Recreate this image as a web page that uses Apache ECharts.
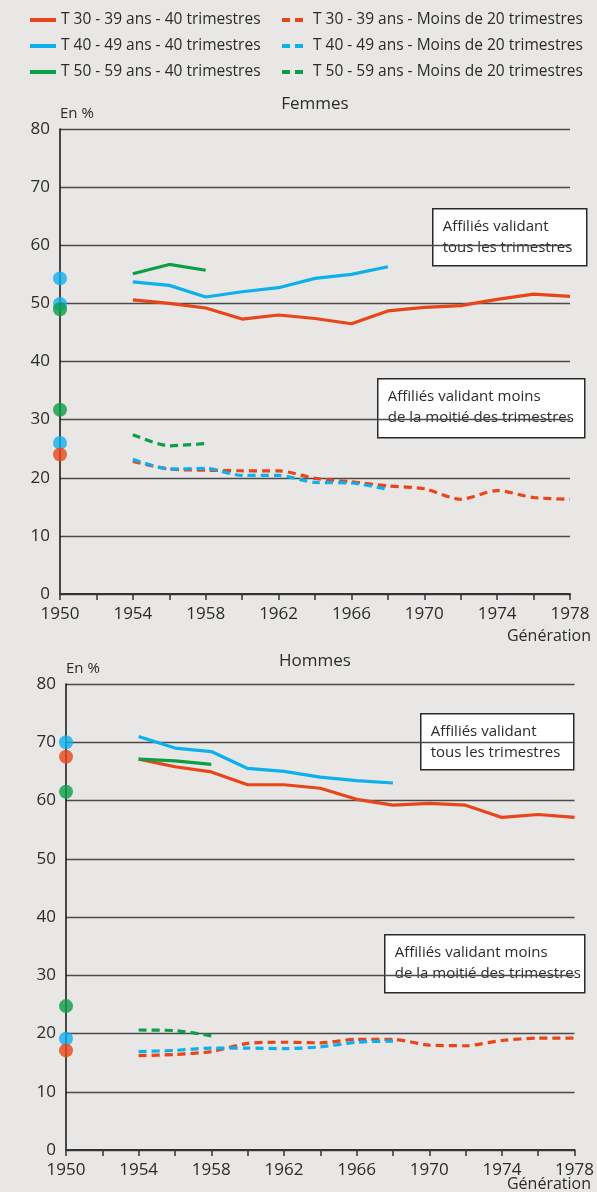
<!DOCTYPE html>
<html>
<head>
<meta charset="utf-8">
<script src="https://cdn.jsdelivr.net/npm/echarts@6/dist/echarts.min.js"></script>
<style>
    html, body { margin: 0; padding: 0; background: #e8e7e5; }
    #chart { width: 597px; height: 1192px; }
</style>
</head>
<body>
<div id="chart"></div>
<script>
    // générations (abscisse)
    const years = [1954, 1956, 1958, 1960, 1962, 1964, 1966, 1968, 1970, 1972, 1974, 1976, 1978];
    const xTicks = [1950, 1954, 1958, 1962, 1966, 1970, 1974, 1978];
    const yTicks = [0, 10, 20, 30, 40, 50, 60, 70, 80];

    const names = [
        'T 30 - 39 ans - 40 trimestres',
        'T 40 - 49 ans - 40 trimestres',
        'T 50 - 59 ans - 40 trimestres',
        'T 30 - 39 ans - Moins de 20 trimestres',
        'T 40 - 49 ans - Moins de 20 trimestres',
        'T 50 - 59 ans - Moins de 20 trimestres'
    ];

    // Femmes
    const femmesT30_40 = [50.6, 50.0, 49.2, 47.3, 48.0, 47.4, 46.5, 48.7, 49.3, 49.6, 50.7, 51.6, 51.2];
    const femmesT40_40 = [53.7, 53.1, 51.1, 52.0, 52.7, 54.3, 55.0, 56.3];
    const femmesT50_40 = [55.1, 56.7, 55.7];
    const femmesT30_20 = [22.8, 21.5, 21.3, 21.2, 21.2, 19.9, 19.3, 18.6, 18.1, 16.3, 17.8, 16.6, 16.3];
    const femmesT40_20 = [23.2, 21.5, 21.6, 20.4, 20.4, 19.2, 19.1, 18.0];
    const femmesT50_20 = [27.4, 25.5, 25.9];
    // points génération 1950 : [valeur, couleur]
    const femmes1950 = [[54.3, 'blue'], [49.9, 'blue'], [26.0, 'blue'], [49.0, 'green'], [31.7, 'green'], [24.0, 'red']];

    // Hommes
    const hommesT30_40 = [67.1, 65.8, 64.9, 62.7, 62.7, 62.1, 60.2, 59.2, 59.5, 59.2, 57.1, 57.6, 57.1];
    const hommesT40_40 = [71.0, 69.0, 68.4, 65.5, 65.0, 64.0, 63.4, 63.0];
    const hommesT50_40 = [67.1, 66.8, 66.2];
    const hommesT30_20 = [16.2, 16.4, 16.9, 18.3, 18.5, 18.4, 19.0, 19.0, 18.0, 17.9, 18.8, 19.2, 19.2];
    const hommesT40_20 = [16.9, 17.1, 17.5, 17.5, 17.4, 17.7, 18.5, 18.7];
    const hommesT50_20 = [20.6, 20.5, 19.6];
    const hommes1950 = [[70.0, 'blue'], [19.1, 'blue'], [61.5, 'green'], [24.7, 'green'], [67.5, 'red'], [17.1, 'red']];

    const colors = { red: '#e8461a', blue: '#0cb0ec', green: '#0b9e47' };
    const seriesColors = [colors.red, colors.blue, colors.green, colors.red, colors.blue, colors.green];
    const font = '"Open Sans", sans-serif';
    const textColor = '#2b2b2b';

    const chart = echarts.init(document.getElementById('chart'));

    function lineSeries(idx, arr, i) {
        const dashed = i >= 3;
        return {
            name: names[i],
            type: 'line',
            xAxisIndex: idx,
            yAxisIndex: idx,
            data: arr.map((v, k) => [years[k], v]),
            symbol: 'none',
            smooth: dashed ? 0.25 : false,
            silent: true,
            lineStyle: {
                color: seriesColors[i],
                width: 3.2,
                type: dashed ? [8, 5] : 'solid'
            },
            itemStyle: { color: seriesColors[i] }
        };
    }

    function dotSeries(idx, dots) {
        return {
            type: 'scatter',
            xAxisIndex: idx,
            yAxisIndex: idx,
            symbolSize: 14,
            clip: false,
            silent: true,
            data: dots.map(d => ({ value: [1950, d[0]], itemStyle: { color: colors[d[1]] } }))
        };
    }

    function xAxis(idx) {
        return {
            type: 'value',
            gridIndex: idx,
            min: 1950,
            max: 1978,
            interval: 2,
            axisLine: { lineStyle: { color: '#333', width: 2 } },
            axisTick: { show: true, length: 6, lineStyle: { color: '#333', width: 1.5 } },
            axisLabel: {
                fontFamily: font,
                fontSize: 17,
                color: textColor,
                margin: 12,
                formatter: v => xTicks.indexOf(v) >= 0 ? String(v) : ''
            },
            splitLine: { show: false }
        };
    }

    function yAxis(idx) {
        return {
            type: 'value',
            gridIndex: idx,
            min: 0,
            max: 80,
            interval: 10,
            name: 'En %',
            nameLocation: 'end',
            nameGap: 8,
            nameTextStyle: { fontFamily: font, fontSize: 15, color: textColor, align: 'left' },
            axisLine: { show: true, lineStyle: { color: '#111', width: 1.5 } },
            axisTick: { show: false },
            axisLabel: {
                fontFamily: font,
                fontSize: 17,
                color: textColor,
                margin: 10,
                formatter: v => yTicks.indexOf(v) >= 0 ? String(v) : ''
            },
            splitLine: { lineStyle: { color: '#4a4a4a', width: 1.3 } }
        };
    }

    function box(x, y, w, h, lines) {
        return {
            type: 'group',
            left: x,
            top: y,
            z: 100,
            children: [{
                type: 'rect',
                shape: { x: 0, y: 0, width: w, height: h },
                style: { fill: '#fff', stroke: '#2b2b2b', lineWidth: 1.5 }
            }, {
                type: 'text',
                x: 10,
                y: 7,
                style: {
                    text: lines,
                    fontFamily: font,
                    fontSize: 15,
                    lineHeight: 21,
                    fill: textColor
                }
            }]
        };
    }

    function label(x, y, text, align, size) {
        return {
            type: 'text',
            x: x,
            y: y,
            style: {
                text: text,
                fontFamily: font,
                fontSize: size,
                fill: textColor,
                align: align,
                verticalAlign: 'middle'
            }
        };
    }

    const legendCommon = {
        orient: 'vertical',
        top: 12,
        padding: 0,
        itemWidth: 26,
        itemHeight: 14,
        itemGap: 10,
        selectedMode: false,
        // masque le rond dessiné par défaut sur l'icône des séries « line »
        itemStyle: { opacity: 0 },
        lineStyle: { width: 4 },
        textStyle: { fontFamily: font, fontSize: 15.5, color: textColor }
    };

    const femmesData = [femmesT30_40, femmesT40_40, femmesT50_40, femmesT30_20, femmesT40_20, femmesT50_20];
    const hommesData = [hommesT30_40, hommesT40_40, hommesT50_40, hommesT30_20, hommesT40_20, hommesT50_20];

    const option = {
        backgroundColor: '#e8e7e5',
        animation: false,
        legend: [
            Object.assign({ left: 28, data: names.slice(0, 3) }, legendCommon),
            Object.assign({ left: 280, data: names.slice(3) }, legendCommon)
        ],
        grid: [
            { left: 60, right: 27, top: 129, height: 465 },
            { left: 66, right: 22, top: 684, height: 466 }
        ],
        xAxis: [xAxis(0), xAxis(1)],
        yAxis: [yAxis(0), yAxis(1)],
        series: [
            ...femmesData.map((arr, i) => lineSeries(0, arr, i)),
            dotSeries(0, femmes1950),
            ...hommesData.map((arr, i) => lineSeries(1, arr, i)),
            dotSeries(1, hommes1950)
        ],
        graphic: [
            label(315, 104, 'Femmes', 'center', 17),
            label(315, 661, 'Hommes', 'center', 17),
            label(591, 636, 'Génération', 'right', 16),
            label(591, 1184, 'Génération', 'right', 16),
            box(432, 208, 154, 57, 'Affiliés validant\ntous les trimestres'),
            box(377, 378, 207, 59, 'Affiliés validant moins\nde la moitié des trimestres'),
            box(420, 713, 153, 56, 'Affiliés validant\ntous les trimestres'),
            box(384, 934, 200, 58, 'Affiliés validant moins\nde la moitié des trimestres')
        ]
    };

    chart.setOption(option);
</script>
</body>
</html>
